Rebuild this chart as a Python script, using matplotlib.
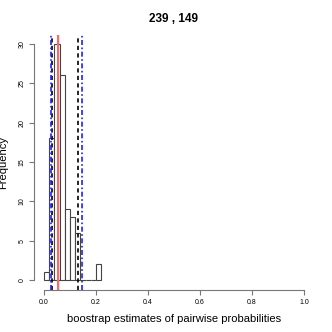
import numpy as np
import matplotlib.pyplot as plt

plt.rcParams["font.family"] = ["Liberation Sans", "DejaVu Sans"]

# bootstrap histogram (bin edges every 0.02)
bin_edges = np.round(np.arange(0, 0.2201, 0.02), 2)
counts = [1, 18, 30, 26, 9, 8, 6, 0, 0, 0, 2]

# reference lines
red_line = 0.054
black_dashed = [0.032, 0.13]
blue_dotdash = [0.029, 0.145]

title = "239 , 149"
xlabel = "boostrap estimates of pairwise probabilities"
xticks = [0.0, 0.2, 0.4, 0.6, 0.8, 1.0]
yticks = [0, 5, 10, 15, 20, 25, 30]

fig = plt.figure(figsize=(3.32, 3.32), dpi=100)
ax = fig.add_axes([0.101, 0.128, 0.846, 0.768])

ax.bar(bin_edges[:-1], counts, width=0.02, align="edge",
       facecolor="white", edgecolor="#444444", linewidth=0.8)

for x in black_dashed:
    ax.axvline(x, color="black", linestyle=(0, (2.5, 2)), linewidth=1.2)
for x in blue_dotdash:
    ax.axvline(x, color="#2020ff", linestyle=(0, (3, 1.5, 1, 1.5)), linewidth=1.2)
ax.axvline(red_line, color="#f26d6d", linewidth=1.6)

ax.set_xlim(-0.04, 1.04)
ax.set_ylim(-1.2, 31.2)

for s in ["top", "right"]:
    ax.spines[s].set_visible(False)
ax.spines["left"].set_bounds(0, 30)
ax.spines["bottom"].set_bounds(0, 1)
for s in ["left", "bottom"]:
    ax.spines[s].set_color("#777777")
    ax.spines[s].set_linewidth(0.8)

ax.set_xticks(xticks)
ax.set_xticklabels([f"{v:.1f}" for v in xticks], fontsize=5)
ax.set_yticks(yticks)
ax.set_yticklabels([str(v) for v in yticks], fontsize=5, rotation=90, va="center")
ax.tick_params(direction="out", length=3.5, width=0.8, color="#777777", pad=3)
ax.tick_params(axis="y", pad=2)

ax.set_title(title, fontsize=8.5, fontweight="bold", pad=9)
ax.set_xlabel(xlabel, fontsize=8, labelpad=6)
ax.set_ylabel("Frequency", fontsize=8, labelpad=7.5)

fig.savefig("out.png", dpi=100)
